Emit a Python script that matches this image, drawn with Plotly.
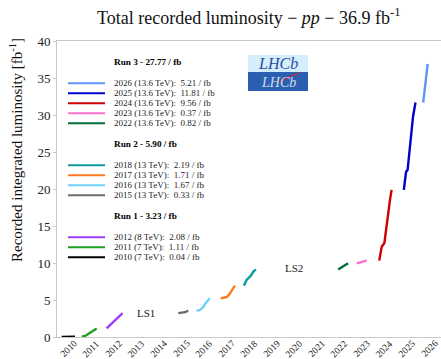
import plotly.graph_objects as go

# Per-year cumulative recorded luminosity (decimal year, fb^-1)
t_2010 = [2010.21, 2010.40, 2010.60, 2010.80]
L_2010 = [0.00, 0.00, 0.01, 0.04]
t_2011 = [2011.10, 2011.25, 2011.40, 2011.55, 2011.76]
L_2011 = [0.04, 0.15, 0.45, 0.75, 1.15]
t_2012 = [2012.20, 2012.40, 2012.60, 2012.80, 2012.91]
L_2012 = [1.15, 1.70, 2.30, 2.90, 3.23]
t_2015 = [2015.38, 2015.55, 2015.68, 2015.82]
L_2015 = [3.23, 3.28, 3.35, 3.56]
t_2016 = [2016.19, 2016.30, 2016.41, 2016.50, 2016.60, 2016.70, 2016.78]
L_2016 = [3.56, 3.60, 3.80, 4.10, 4.60, 4.95, 5.23]
t_2017 = [2017.26, 2017.40, 2017.52, 2017.62, 2017.72, 2017.82, 2017.89]
L_2017 = [5.23, 5.28, 5.40, 5.65, 6.10, 6.60, 6.94]
t_2018 = [2018.29, 2018.35, 2018.41, 2018.50, 2018.59, 2018.70, 2018.82]
L_2018 = [6.94, 7.30, 7.70, 8.00, 8.25, 8.80, 9.13]
t_2022 = [2022.47, 2022.58, 2022.69, 2022.80, 2022.91]
L_2022 = [9.13, 9.30, 9.50, 9.75, 9.95]
t_2023 = [2023.29, 2023.40, 2023.51, 2023.62, 2023.73]
L_2023 = [9.95, 10.05, 10.20, 10.27, 10.32]
t_2024 = [2024.29, 2024.36, 2024.40, 2024.52, 2024.60, 2024.70, 2024.77, 2024.84]
L_2024 = [10.32, 11.30, 12.20, 12.70, 14.80, 17.20, 18.60, 19.88]
t_2025 = [2025.38, 2025.42, 2025.48, 2025.55, 2025.62, 2025.70, 2025.79, 2025.90]
L_2025 = [19.88, 21.00, 22.30, 22.60, 24.80, 27.00, 29.80, 31.69]
t_2026 = [2026.24, 2026.30, 2026.36, 2026.44]
L_2026 = [31.69, 33.00, 34.80, 36.90]

years = [2010, 2011, 2012, 2015, 2016, 2017, 2018, 2022, 2023, 2024, 2025, 2026]
energies = ["7", "7", "8", "13", "13", "13", "13", "13.6", "13.6", "13.6", "13.6", "13.6"]
year_lumi = [0.04, 1.11, 2.08, 0.33, 1.67, 1.71, 2.19, 0.82, 0.37, 9.56, 11.81, 5.21]
colors = ["#000000", "#1fa01f", "#9b3dff", "#6e6e6e", "#6ccfff", "#ff7a22",
          "#0f9c9c", "#00703a", "#ff70cc", "#d00000", "#0000d0", "#5e94f5"]
series_t = [t_2010, t_2011, t_2012, t_2015, t_2016, t_2017, t_2018,
            t_2022, t_2023, t_2024, t_2025, t_2026]
series_L = [L_2010, L_2011, L_2012, L_2015, L_2016, L_2017, L_2018,
            L_2022, L_2023, L_2024, L_2025, L_2026]

runs = ["Run 3", "Run 2", "Run 1"]
run_totals = [27.77, 5.90, 3.23]
run_years = [[2026, 2025, 2024, 2023, 2022], [2018, 2017, 2016, 2015], [2012, 2011, 2010]]
total_lumi = 36.9
tick_years = list(range(2010, 2027))

W, H = 441, 359
L_M, R_M, T_M, B_M = 57, 0, 41, 22
PW, PH = W - L_M - R_M, H - T_M - B_M
SERIF = "Liberation Serif, Times New Roman, serif"


def px(x):
    return (x - L_M) / PW


def py(y):
    return (H - B_M - y) / PH


fig = go.Figure()
for t, L, c in zip(series_t, series_L, colors):
    fig.add_trace(go.Scatter(x=t, y=L, mode="lines", line=dict(color=c, width=2.4),
                             showlegend=False, hoverinfo="skip"))

annotations = []
shapes = []

# Title and y-axis title
annotations.append(dict(text="Total recorded luminosity \u2212 <i>pp</i> \u2212 %.1f fb<sup>-1</sup>" % total_lumi,
                        xref="paper", yref="paper", x=px(249), y=py(17), xanchor="center", yanchor="middle",
                        showarrow=False, font=dict(family=SERIF, size=18, color="#111")))
annotations.append(dict(text="Recorded integrated luminosity [fb<sup>-1</sup>]",
                        xref="paper", yref="paper", x=px(16), y=py(150), xanchor="center", yanchor="middle",
                        textangle=-90, showarrow=False, font=dict(family=SERIF, size=15, color="#111")))

# Rotated year labels, centred on each year
for yr in tick_years:
    annotations.append(dict(text=str(yr), xref="x", yref="paper", x=yr + 0.5, y=py(348.5),
                            xanchor="center", yanchor="middle", textangle=-45, showarrow=False,
                            font=dict(family=SERIF, size=9.5, color="#222")))

# Hand-built legend grouped by run
row_y = 62
idx = {y: i for i, y in enumerate(years)}
for run, tot, ylist in zip(runs, run_totals, run_years):
    annotations.append(dict(text="<b>%s - %.2f / fb</b>" % (run, tot), xref="paper", yref="paper",
                            x=px(112), y=py(row_y), xanchor="left", yanchor="middle", showarrow=False,
                            font=dict(family=SERIF, size=9.2, color="#000")))
    row_y += 21.3
    for yr in ylist:
        i = idx[yr]
        shapes.append(dict(type="line", xref="paper", yref="paper", x0=px(68), x1=px(105),
                           y0=py(row_y), y1=py(row_y), line=dict(color=colors[i], width=2)))
        annotations.append(dict(text="%d (%s TeV):  %.2f / fb" % (yr, energies[i], year_lumi[i]),
                                xref="paper", yref="paper", x=px(112), y=py(row_y), xanchor="left",
                                yanchor="middle", showarrow=False,
                                font=dict(family=SERIF, size=9, color="#222")))
        row_y += 10
    row_y += 10.7

# Shutdown labels
annotations.append(dict(text="LS1", x=2013.95, y=3.24, xref="x", yref="y", showarrow=False,
                        font=dict(family=SERIF, size=11, color="#222")))
annotations.append(dict(text="LS2", x=2020.51, y=9.32, xref="x", yref="y", showarrow=False,
                        font=dict(family=SERIF, size=11, color="#222")))

# Experiment badge: pale upper half with the name, dark lower half with its reflection
shapes.append(dict(type="rect", xref="paper", yref="paper", x0=px(248), x1=px(308), y0=py(72), y1=py(55),
                   fillcolor="#d5eefb", line=dict(width=0)))
shapes.append(dict(type="rect", xref="paper", yref="paper", x0=px(248), x1=px(308), y0=py(91), y1=py(72),
                   fillcolor="#2c5fb0", line=dict(width=0)))
annotations.append(dict(text="<i>LHCb</i>", xref="paper", yref="paper", x=px(278), y=py(73),
                        xanchor="center", yanchor="bottom", showarrow=False, borderpad=0,
                        font=dict(family=SERIF, size=16, color="#2a4f9e")))
annotations.append(dict(text="<i>LHCb</i>", xref="paper", yref="paper", x=px(278), y=py(74),
                        xanchor="center", yanchor="top", showarrow=False, opacity=0.85, borderpad=0,
                        font=dict(family=SERIF, size=14, color="#e8f2ff")))
shapes.append(dict(type="line", xref="paper", yref="paper", x0=px(278), x1=px(300), y0=py(81.5), y1=py(72.5),
                   line=dict(color="#e0202a", width=1)))

fig.update_layout(
    width=W, height=H,
    margin=dict(l=L_M, r=R_M, t=T_M, b=B_M, autoexpand=False),
    plot_bgcolor="white", paper_bgcolor="white",
    annotations=annotations, shapes=shapes,
    xaxis=dict(range=[2010, 2027.03], tickmode="array", tickvals=tick_years,
               showticklabels=False, ticks="", showgrid=False, zeroline=False,
               showline=True, linecolor="#c8c8c8", linewidth=1, mirror=True),
    yaxis=dict(range=[0, 40], tickvals=list(range(0, 41, 5)), ticks="outside", ticklen=3,
               tickcolor="#c8c8c8", showgrid=False, zeroline=False,
               showline=True, linecolor="#c8c8c8", linewidth=1,
               tickfont=dict(family=SERIF, size=13, color="#222")),
)

fig.write_html("out.html")
